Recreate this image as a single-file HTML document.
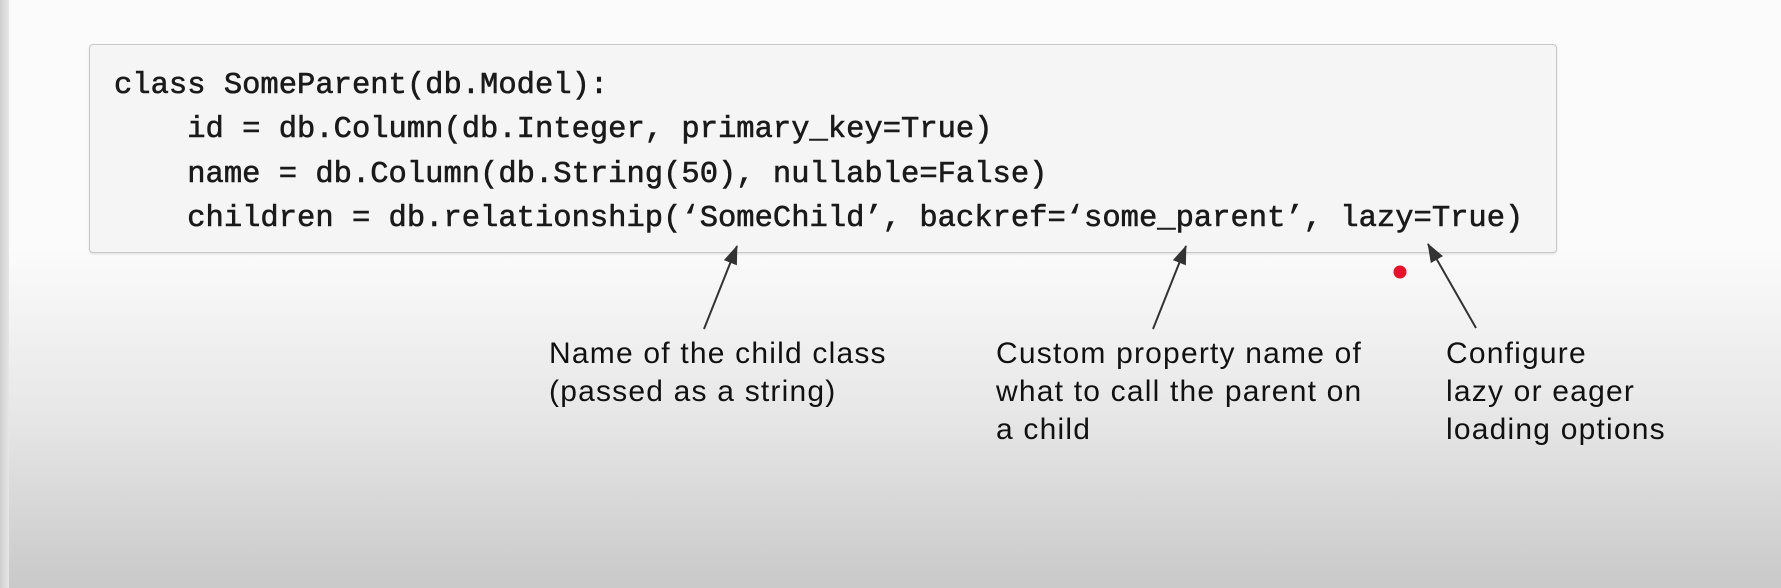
<!DOCTYPE html>
<html><head><meta charset="utf-8"><style>
html,body{margin:0;padding:0}
body{width:1781px;height:588px;position:relative;overflow:hidden;
background:linear-gradient(to bottom,#fbfbfb 0px,#fbfbfb 250px,#e6e6e6 420px,#c9c9c9 588px);
font-family:"Liberation Sans",sans-serif}
.strip{position:absolute;left:0;top:0;width:9px;height:588px;background:linear-gradient(to right,#cfcfcf,#e6e6e6)}
.box{position:absolute;left:89px;top:44px;width:1466px;height:207px;background:#f5f5f5;border:1.5px solid #c8c8c8;border-radius:4px;box-shadow:0 1px 2px rgba(0,0,0,.12)}
.code{position:absolute;left:114px;top:64px;font-family:"Liberation Mono",monospace;font-size:30.5px;line-height:44.3px;color:#1a1a1a;white-space:pre;-webkit-text-stroke:0.6px #1a1a1a}
.lbl{position:absolute;font-size:30px;letter-spacing:1.2px;line-height:38px;color:#111;white-space:pre}
</style></head><body>
<div class="strip"></div>
<div class="box"></div>
<div class="code">class SomeParent(db.Model):
    id = db.Column(db.Integer, primary_key=True)
    name = db.Column(db.String(50), nullable=False)
    children = db.relationship(‘SomeChild’, backref=‘some_parent’, lazy=True)</div>
<svg width="1781" height="588" style="position:absolute;left:0;top:0">
<defs><marker id="a" markerWidth="20" markerHeight="14" refX="18" refY="7" orient="auto" markerUnits="userSpaceOnUse"><path d="M0,0 L19,7 L0,14 z" fill="#333"/></marker></defs>
<g stroke="#333" stroke-width="2">
<line x1="704" y1="329" x2="737" y2="246" marker-end="url(#a)"/>
<line x1="1153" y1="329" x2="1186" y2="246" marker-end="url(#a)"/>
<line x1="1476" y1="328" x2="1428" y2="244" marker-end="url(#a)"/>
</g>
<circle cx="1400" cy="272" r="6.5" fill="#e8102a"/>
</svg>
<div class="lbl" style="left:549px;top:335px">Name of the child class
(passed as a string)</div>
<div class="lbl" style="left:996px;top:335px">Custom property name of
what to call the parent on
a child</div>
<div class="lbl" style="left:1446px;top:335px">Configure
lazy or eager
loading options</div>
</body></html>
